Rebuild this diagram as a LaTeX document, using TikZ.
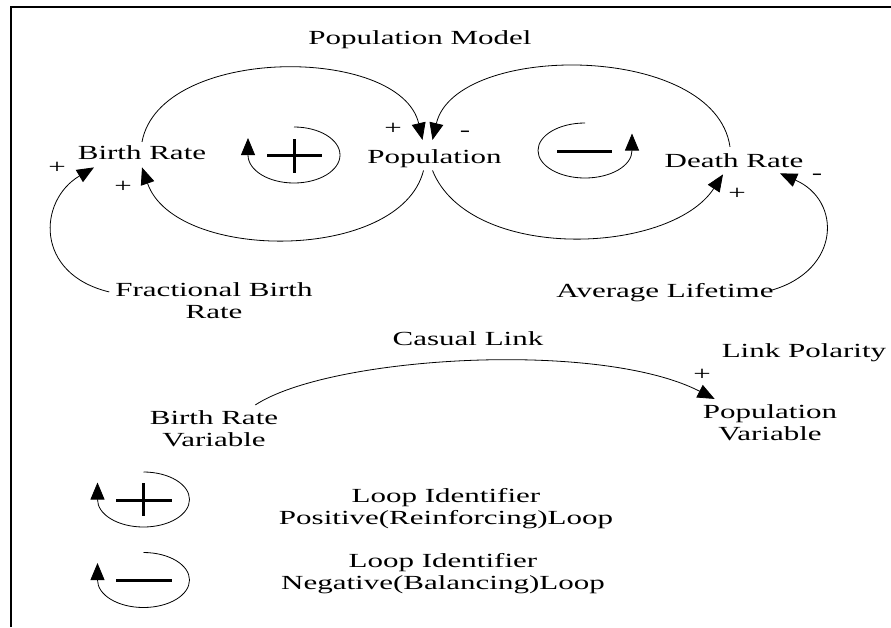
\documentclass[tikz,border=0pt]{standalone}
\usepackage{fontspec}
\setmainfont[FakeStretch=1.55]{Liberation Serif}
\usepackage{tikz}
\usetikzlibrary{arrows.meta,calc}
\tikzset{
  myvar/.style = {inner sep=3pt, align=center, anchor=base, font=\fontsize{20}{22}\selectfont},
  mysign/.style = {inner sep=0pt, font=\fontsize{20}{22}\selectfont},
  mythin/.style = {line width=0.8pt},
  myarrow/.style = {-{Triangle[length=17pt,width=14pt]}, line width=0.8pt},
  mythick/.style = {line width=3pt},
}

\begin{document}
\begin{tikzpicture}[x=1pt,y=-1pt]
\useasboundingbox (0,0) rectangle (891,627);
\draw[line width=1.3pt] (11,627) -- (11,7) -- (891,7);

\node[myvar] (title) at (420,44) {Population Model};
\node[myvar] (birth) at (142,159) {Birth Rate};
\node[myvar] (pop) at (434.5,163) {Population};
\node[myvar] (death) at (734,167) {Death Rate};
\node[myvar] (frac) at (214,318) {Fractional Birth\\Rate};
\node[myvar] (life) at (665,297) {Average Lifetime};
\node[myvar] (causal) at (468,345) {Casual Link};
\node[myvar] (polarity) at (804,357) {Link Polarity};
\node[myvar] (brvar) at (214,446) {Birth Rate\\Variable};
\node[myvar] (popvar) at (770,440) {Population\\Variable};
\node[myvar] (legpos) at (446,524) {Loop Identifier\\Positive(Reinforcing)Loop};
\node[myvar] (legneg) at (443,589) {Loop Identifier\\Negative(Balancing)Loop};

\node[mysign] (pBirthL) at (57,168) {+};
\node[mysign] (pBirthB) at (123,187) {+};
\node[mysign] (pPopL) at (393,129) {+};
\node[mysign] (pPopR) at (465,134) {-};
\node[mysign] (pDeathB) at (737,194) {+};
\node[mysign] (pDeathR) at (817,177) {-};
\node[mysign] (pLink) at (702,375) {+};

\draw[myarrow] (birth.north) .. controls +(18,-97) and +(-22,-95) .. ([xshift=-12pt,yshift=6pt]pop.north);
\draw[myarrow] ([xshift=-11pt]pop.south) .. controls +(-23,92) and +(33,95) .. ([yshift=-5pt]birth.south);
\draw[myarrow] ([xshift=-4pt,yshift=3pt]death.north) .. controls +(-15,-105) and +(23,-98) .. ([xshift=-2pt,yshift=6pt]pop.north);
\draw[myarrow] ([xshift=-2pt]pop.south) .. controls +(37,92) and +(-53,81) .. ([xshift=-11pt,yshift=-4pt]death.south);
\draw[myarrow] ([xshift=-3pt,yshift=-13pt]frac.north west) .. controls +(-75,-18) and +(-56,33) .. ([xshift=-48pt,yshift=-5pt]birth.south);
\draw[myarrow] ([xshift=-5pt,yshift=2pt]life.east) .. controls +(69,-20) and +(62,27) .. ([xshift=46pt,yshift=-3pt]death.south);
\draw[myarrow] ([xshift=-26pt,yshift=2pt]brvar.north east) .. controls +(75,-49) and +(-115,-59) .. ([xshift=15pt,yshift=2pt]popvar.north west);

\draw[myarrow] (294,127) arc[start angle=-90, end angle=180, x radius=46, y radius=28] -- ++(0,-17);
\draw[mythick] (267,155) -- (322,155) (294,139) -- (294,173);
\draw[myarrow] (585,123) arc[start angle=270, end angle=0, x radius=47, y radius=27.5] -- ++(0,-17);
\draw[mythick] (557,151) -- (612,151);

\draw[myarrow] (143.5,472) arc[start angle=-90, end angle=180, x radius=46, y radius=27.5] -- ++(0,-17);
\draw[mythick] (116,500) -- (172,500) (143,483) -- (143,516);
\draw[myarrow] (143.5,552.5) arc[start angle=-90, end angle=180, x radius=46, y radius=27.5] -- ++(0,-17);
\draw[mythick] (116,580) -- (172,580);
\end{tikzpicture}
\end{document}
